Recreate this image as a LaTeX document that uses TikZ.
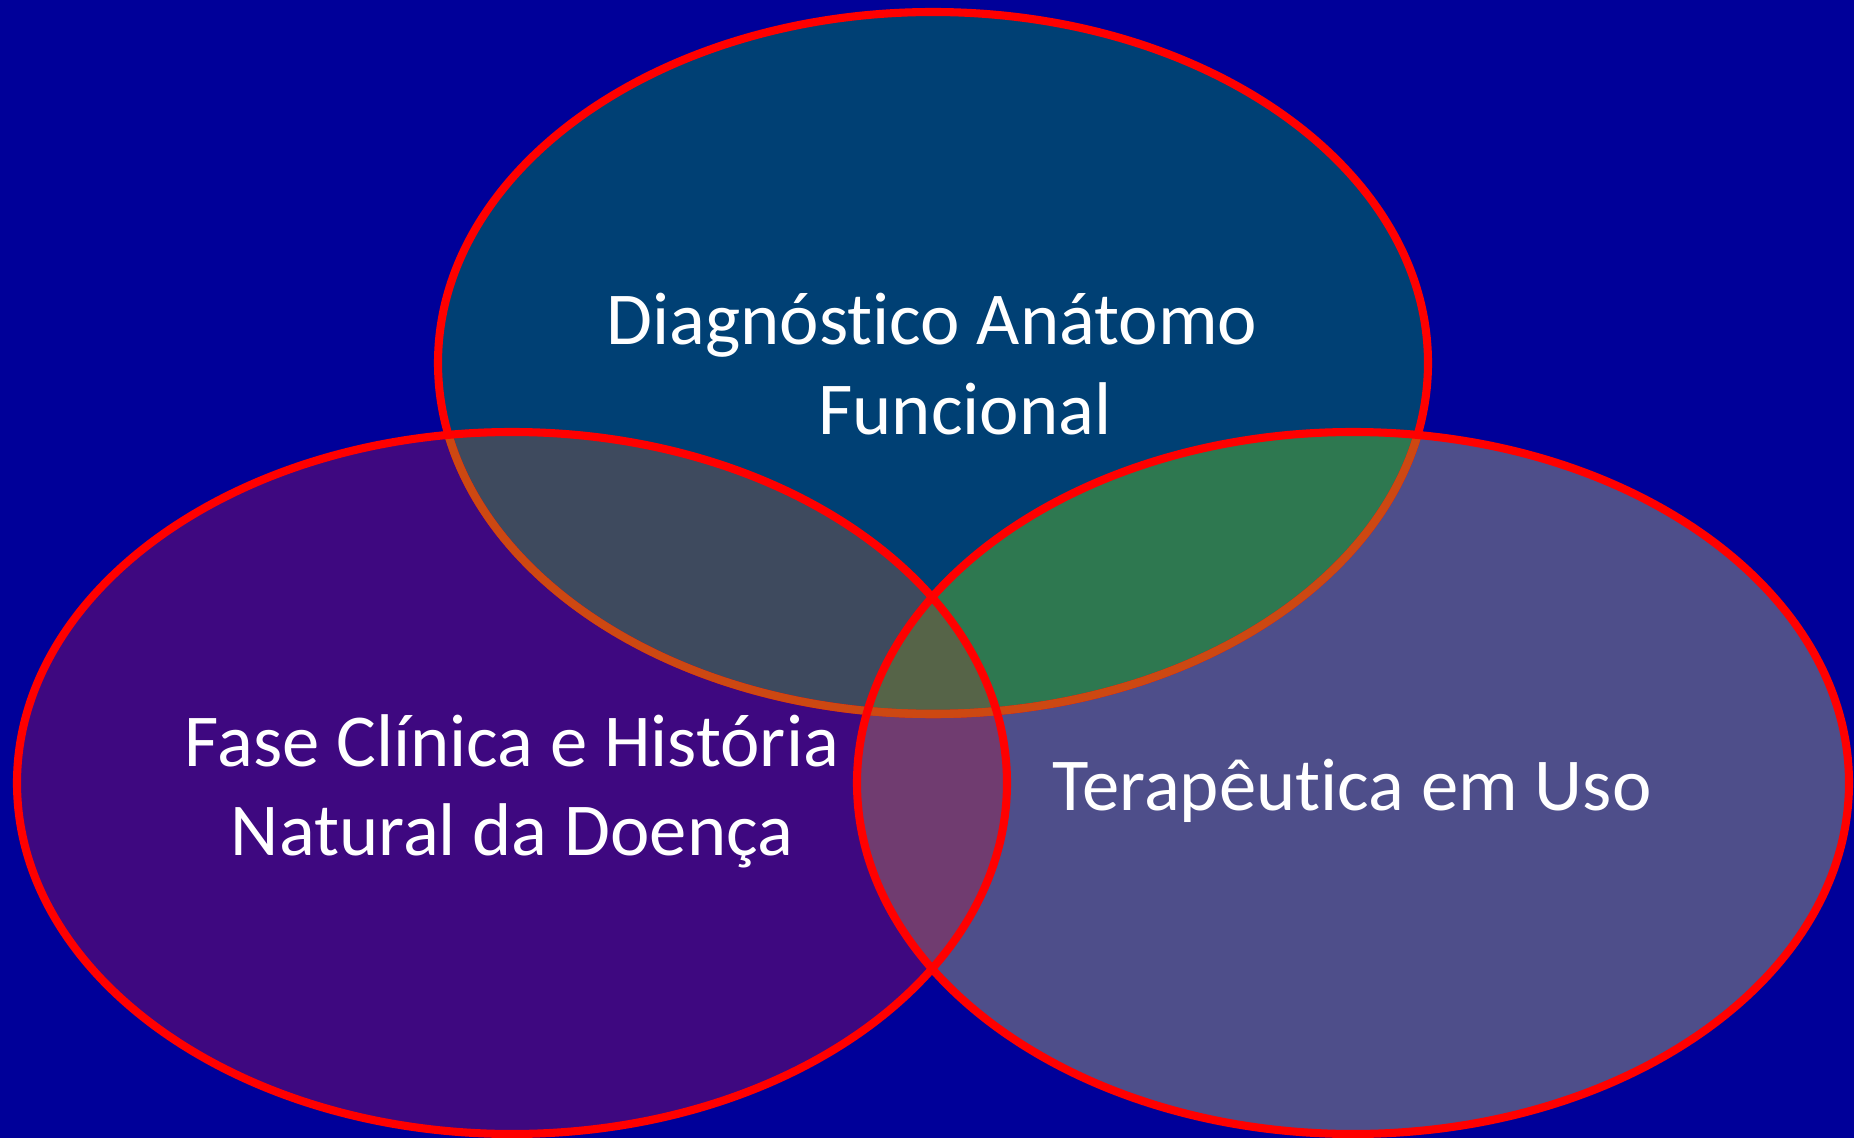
\documentclass[tikz,border=0pt]{standalone}
\usepackage{fontspec}
\setmainfont[Ligatures={NoCommon}]{Carlito}
\definecolor{bgc}{RGB}{0,0,153}
\definecolor{topc}{RGB}{0,64,116}
\definecolor{leftc}{RGB}{62,8,128}
\definecolor{rightc}{RGB}{78,78,138}
\definecolor{tlc}{RGB}{62,74,94}
\definecolor{trc}{RGB}{46,120,80}
\definecolor{lrc}{RGB}{112,60,112}
\definecolor{allc}{RGB}{86,100,72}
\definecolor{edgec}{RGB}{255,0,0}
\definecolor{edgeo}{RGB}{205,72,18}
\newcommand{\tibrk}{\kern0pt\relax}
\tikzset{
  edge/.style={draw=edgec,line width=4.6pt},
  edgeover/.style={draw=edgeo,line width=4.6pt},
  lbl/.style={text=white,anchor=base,inner sep=0pt,font=\fontsize{42.5}{50}\selectfont}
}
\begin{document}
\begin{tikzpicture}[x=0.02cm,y=-0.02cm]
\fill[bgc] (0,0) rectangle (1854,1138);
\useasboundingbox (0,0) rectangle (1854,1138);
\def\topE{(933,363) ellipse [x radius=495,y radius=351]}
\def\leftE{(512,783) ellipse [x radius=495,y radius=351]}
\def\rightE{(1353,783) ellipse [x radius=496,y radius=351]}
% base fills
\fill[topc] \topE;
\fill[leftc] \leftE;
\fill[rightc] \rightE;
% pairwise overlaps
\begin{scope}\clip \topE; \fill[tlc] \leftE; \end{scope}
\begin{scope}\clip \topE; \fill[trc] \rightE; \end{scope}
\begin{scope}\clip \leftE; \fill[lrc] \rightE; \end{scope}
\begin{scope}\clip \topE; \clip \leftE; \fill[allc] \rightE; \end{scope}
% outlines
\draw[edge] \topE;
\begin{scope}\clip \leftE; \draw[edgeover] \topE; \end{scope}
\begin{scope}\clip \rightE; \draw[edgeover] \topE; \end{scope}
\draw[edge] \leftE;
\draw[edge] \rightE;
% labels
\node[lbl] (d1) at (932,345) {Diagnóst\tibrk ico Anátomo};
\node[lbl] (d2) at (965,435) {Funcional};
\node[lbl] (f1) at (512,766) {Fase Clínica e História};
\node[lbl] (f2) at (512,855) {Natural da Doença};
\node[lbl] (t1) at (1352,810) {Terapêut\tibrk ica em Uso};
\end{tikzpicture}
\end{document}
